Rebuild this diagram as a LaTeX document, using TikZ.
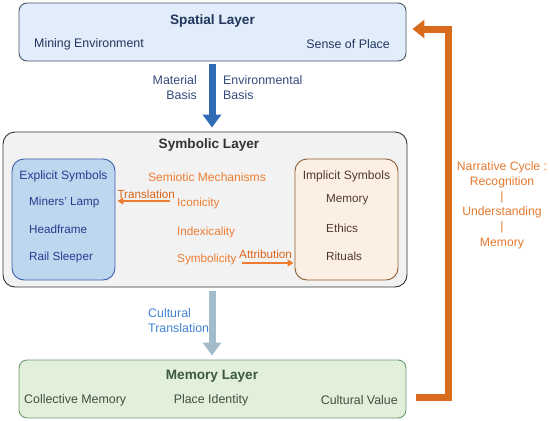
\documentclass[tikz,border=0pt]{standalone}
\usepackage{fontspec}
\setmainfont{Liberation Sans}
\usetikzlibrary{arrows.meta}
\definecolor{spfill}{HTML}{E1EDFA}
\definecolor{spdraw}{HTML}{4A5566}
\definecolor{sptext}{HTML}{22365E}
\definecolor{basisblue}{HTML}{2F6CB5}
\definecolor{basistext}{HTML}{34497C}
\definecolor{syfill}{HTML}{F2F2F2}
\definecolor{sydraw}{HTML}{333333}
\definecolor{exfill}{HTML}{BDD7EE}
\definecolor{exdraw}{HTML}{3F5FAE}
\definecolor{extext}{HTML}{2B3990}
\definecolor{imfill}{HTML}{FCEFE3}
\definecolor{imdraw}{HTML}{8C5D33}
\definecolor{imtext}{HTML}{4D3B2E}
\definecolor{semorange}{HTML}{EE7D31}
\definecolor{transorange}{HTML}{DC6418}
\definecolor{grayarrow}{HTML}{A3BCCB}
\definecolor{cultblue}{HTML}{3F82D6}
\definecolor{mefill}{HTML}{E2EFDA}
\definecolor{medraw}{HTML}{6B9A6F}
\definecolor{metitle}{HTML}{3B5A3B}
\definecolor{metext}{HTML}{404F40}
\definecolor{looporange}{HTML}{D96C1C}
\definecolor{narrorange}{HTML}{E2782F}
\tikzset{
  slbox/.style={draw, rounded corners=8pt, line width=0.9pt, inner sep=0pt},
  slinner/.style={slbox, rounded corners=12pt, minimum width=103pt, minimum height=121pt},
  sltitle/.style={font=\fontsize{13.6}{16}\selectfont\bfseries, inner sep=0pt},
  sltext/.style={font=\fontsize{12.4}{15}\selectfont, inner sep=0pt},
  slitem/.style={font=\fontsize{11.7}{14}\selectfont, inner sep=0pt},
  slsub/.style={font=\fontsize{12.1}{15}\selectfont, inner sep=0pt},
  slblock/.style={line width=7pt, -{Triangle[width=18pt,length=13pt]}},
  slsemio/.style={line width=2.2pt, draw=semorange, -{Triangle[width=7pt,length=6pt]}},
  slloop/.style={line width=7pt, draw=looporange, -{Triangle[width=18pt,length=12pt]}}
}

\begin{document}
\begin{tikzpicture}[x=1pt, y=-1pt]
  \useasboundingbox (0,0) rectangle (550,421);
  % layers
  \node[slbox, fill=spfill, draw=spdraw, minimum width=387pt, minimum height=58pt] (spatial) at (212.5,32) {};
  \node[slbox, fill=syfill, draw=sydraw, rounded corners=12pt, minimum width=404pt, minimum height=155pt] (symbolic) at (205,209.5) {};
  \node[slbox, fill=mefill, draw=medraw, minimum width=387pt, minimum height=58pt] (memory) at (212.5,389) {};
  \node[slinner, fill=exfill, draw=exdraw] (explicit) at (63.5,219.5) {};
  \node[slinner, fill=imfill, draw=imdraw] (implicit) at (346.5,219.5) {};
  % spatial layer
  \node[sltitle, text=sptext] (sptitle) at (212.5,21) {Spatial Layer};
  \node[sltext, text=sptext, anchor=west] (mining) at (34,44) {Mining Environment};
  \node[sltext, text=sptext, anchor=east] (sense) at (390,44) {Sense of Place};
  \node[sltext, text=basistext, anchor=east, align=right] (material) at (197,88) {Material\\Basis};
  \node[sltext, text=basistext, anchor=west, align=left] (environ) at (223,88) {Environmental\\Basis};
  % symbolic layer
  \node[sltitle, text=sydraw] (sytitle) at (209,145) {Symbolic Layer};
  \node[slsub, text=extext] (extitle) at (63.5,176) {Explicit Symbols};
  \node[slitem, text=extext, anchor=west] (lamp) at (29,202) {Miners' Lamp};
  \node[slitem, text=extext, anchor=west] (headframe) at (29,229) {Headframe};
  \node[slitem, text=extext, anchor=west] (sleeper) at (29,257) {Rail Sleeper};
  \node[slsub, text=imtext] (imtitle) at (346.5,176) {Implicit Symbols};
  \node[slitem, text=imtext, anchor=west] (memo) at (326,200) {Memory};
  \node[slitem, text=imtext, anchor=west] (ethics) at (326,228) {Ethics};
  \node[slitem, text=imtext, anchor=west] (rituals) at (326,256) {Rituals};
  \node[slsub, text=semorange] (semiotic) at (207,177) {Semiotic Mechanisms};
  \node[slitem, text=semorange, anchor=west] (iconicity) at (177,203) {Iconicity};
  \node[slitem, text=semorange, anchor=west] (indexicality) at (177,232) {Indexicality};
  \node[slitem, text=semorange, anchor=west] (symbolicity) at (177,259) {Symbolicity};
  % memory layer
  \node[sltitle, text=metitle] (metitle) at (212,376) {Memory Layer};
  \node[sltext, text=metext, anchor=west] (collective) at (24,400) {Collective Memory};
  \node[sltext, text=metext] (identity) at (211,400) {Place Identity};
  \node[sltext, text=metext, anchor=east] (value) at (398,400) {Cultural Value};
  \node[sltext, text=cultblue, anchor=west, align=left] (cultural) at (148,320.5) {Cultural\\Translation};
  \node[sltext, text=narrorange, align=center, font=\fontsize{12.2}{15.2}\selectfont] (narrative) at (502,205)
    {Narrative Cycle :\\Recognition\\|\\Understanding\\|\\Memory};
  % connectors
  \draw[slblock, draw=basisblue, shorten <=3pt, shorten >=4pt] ([xshift=-0.5pt]spatial.south) -- ([xshift=-0.5pt]spatial.south |- symbolic.north);
  \draw[slblock, draw=grayarrow, shorten <=4pt, shorten >=4pt] ([xshift=-0.5pt]memory.north |- symbolic.south) -- ([xshift=-0.5pt]memory.north);
  \draw[slsemio, shorten <=7pt, shorten >=2pt] ([yshift=2pt]iconicity.west) -- ([yshift=2pt]explicit.east |- iconicity.west)
    node[midway, above=1pt, slitem, text=transorange] (translation) {Translation};
  \draw[slsemio, shorten <=5pt, shorten >=1pt] ([yshift=-4pt]symbolicity.east) -- ([yshift=-4pt]implicit.west |- symbolicity.east)
    node[midway, above=3pt, slitem, text=transorange] (attribution) {Attribution};
  \coordinate (loopx) at (448.5,0);
  \draw[slloop] ([xshift=10pt,yshift=-8.5pt]memory.east) -- ([yshift=-8.5pt]memory.east -| loopx)
    |- ([xshift=6pt,yshift=3pt]spatial.east);
\end{tikzpicture}
\end{document}
